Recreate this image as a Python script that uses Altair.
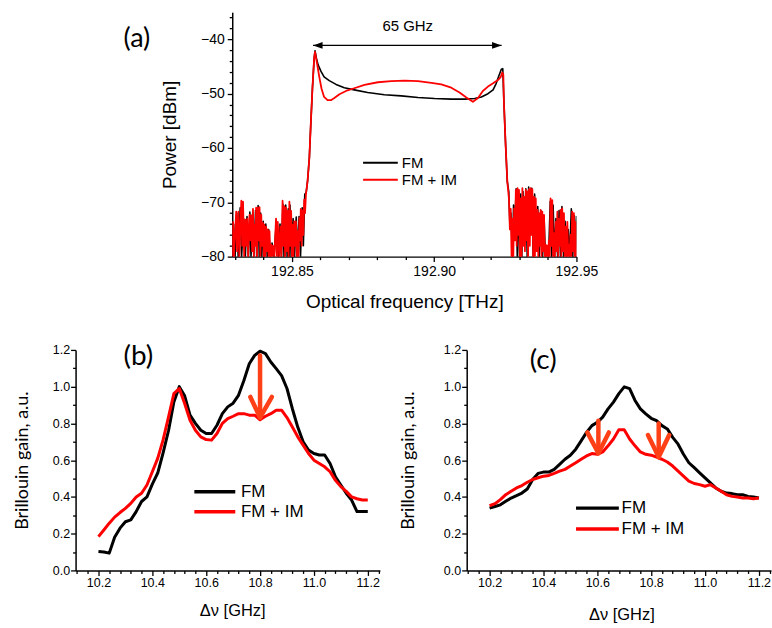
import altair as alt
import pandas as pd

# ---------------- Panel (a): optical spectrum ----------------
A_FM_LEFT_NOISE = [
    (192.8290, -80), (192.8295, -74), (192.8300, -80), (192.8306, -72), (192.8311, -80), (192.8318, -71),
    (192.8323, -80), (192.8330, -73), (192.8336, -80), (192.8342, -72.6), (192.8347, -80), (192.8352, -71.8),
    (192.8356, -80), (192.8362, -72), (192.8366, -80), (192.8372, -71.5), (192.8376, -80), (192.8381, -70.6),
    (192.8385, -80), (192.8390, -72), (192.8394, -80), (192.8399, -73.5), (192.8402, -80), (192.8408, -74),
    (192.8413, -80), (192.8418, -75), (192.8424, -80), (192.8430, -77.5), (192.8437, -80), (192.8445, -73.5),
    (192.8452, -80), (192.8458, -74), (192.8463, -80), (192.8468, -70.3), (192.8472, -80), (192.8478, -70.5),
    (192.8483, -80), (192.8487, -71.2), (192.8490, -80), (192.8493, -70.5), (192.8497, -80), (192.8504, -73),
    (192.8509, -80), (192.8515, -72.7), (192.8519, -80), (192.8525, -72.6), (192.8530, -80), (192.8536, -71),
    (192.8540, -78), (192.8545, -68.5), (192.8550, -68.2),
]
A_FM_MAIN = [
    (192.8555, -66), (192.8561, -61.9), (192.8566, -55.8), (192.8572, -49), (192.8578, -43.5), (192.8581, -42.1),
    (192.8586, -43.5), (192.8592, -44.7), (192.8602, -45.9), (192.8613, -46.9), (192.8631, -47.6), (192.8655, -48.3),
    (192.8684, -48.9), (192.8719, -49.3), (192.8766, -49.8), (192.8825, -50.2), (192.8884, -50.4), (192.8943, -50.7),
    (192.9001, -50.9), (192.9060, -51.0), (192.9107, -51.0), (192.9142, -50.9), (192.9166, -50.6), (192.9189, -50.0),
    (192.9207, -49.3), (192.9218, -48.1), (192.9228, -46.6), (192.9236, -45.5), (192.9241, -45.4), (192.9245, -51.5),
    (192.9251, -59.4), (192.9257, -66.2),
]
A_FM_RIGHT_NOISE = [
    (192.9262, -68), (192.9266, -74), (192.9270, -72), (192.9275, -80), (192.9279, -70.5), (192.9283, -75),
    (192.9288, -67.5), (192.9292, -80), (192.9296, -67.8), (192.9300, -80), (192.9304, -68.5), (192.9308, -80),
    (192.9312, -68), (192.9317, -78), (192.9322, -67.5), (192.9327, -80), (192.9332, -67.2), (192.9337, -76),
    (192.9343, -67.4), (192.9348, -80), (192.9353, -68.5), (192.9358, -76), (192.9364, -70.8), (192.9369, -80),
    (192.9375, -71.5), (192.9381, -80), (192.9386, -72.5), (192.9391, -80), (192.9397, -78), (192.9402, -80),
    (192.9408, -69.8), (192.9413, -80), (192.9418, -70.5), (192.9423, -80), (192.9428, -73), (192.9434, -80),
    (192.9439, -71.5), (192.9444, -80), (192.9449, -70.8), (192.9455, -80), (192.9460, -73.5), (192.9465, -80),
    (192.9471, -75), (192.9476, -80), (192.9482, -71.2), (192.9487, -80), (192.9492, -72.5), (192.9497, -80),
    (192.9500, -72.5),
]
A_IM_LEFT_NOISE = [
    (192.8290, -80), (192.8293, -73.6), (192.8296, -80), (192.8300, -76), (192.8304, -71.7), (192.8307, -79),
    (192.8312, -71.7), (192.8315, -80), (192.8319, -74), (192.8322, -69.7), (192.8325, -78), (192.8328, -69.9),
    (192.8332, -80), (192.8336, -73.2), (192.8339, -78), (192.8343, -73.0), (192.8346, -80), (192.8351, -72.3),
    (192.8354, -77), (192.8357, -72.4), (192.8360, -79), (192.8363, -71.2), (192.8366, -80), (192.8368, -74.1),
    (192.8371, -78), (192.8374, -71.0), (192.8377, -80), (192.8380, -71.0), (192.8383, -77), (192.8386, -70.9),
    (192.8389, -80), (192.8392, -72.3), (192.8395, -78), (192.8398, -73.8), (192.8401, -80), (192.8403, -74.1),
    (192.8406, -80), (192.8409, -74.5), (192.8412, -79), (192.8415, -75.0), (192.8418, -80), (192.8421, -75.3),
    (192.8424, -80), (192.8427, -77.8), (192.8430, -80), (192.8433, -78.0), (192.8438, -80), (192.8444, -73.0),
    (192.8447, -80), (192.8450, -73.6), (192.8455, -80), (192.8459, -74.5), (192.8463, -80), (192.8467, -69.7),
    (192.8470, -78), (192.8473, -70.7), (192.8476, -80), (192.8479, -71.0), (192.8482, -79), (192.8485, -71.6),
    (192.8488, -80), (192.8491, -69.9), (192.8494, -78), (192.8497, -71.6), (192.8500, -80), (192.8502, -74.1),
    (192.8505, -80), (192.8508, -73.5), (192.8511, -78), (192.8514, -73.5), (192.8517, -80), (192.8520, -75.3),
    (192.8523, -80), (192.8526, -72.9), (192.8529, -77), (192.8531, -71.2), (192.8534, -78), (192.8537, -71.5),
    (192.8540, -76), (192.8543, -69.5), (192.8546, -72), (192.8549, -68.6),
]
A_IM_MAIN = [
    (192.8555, -66), (192.8561, -61.9), (192.8566, -55.8), (192.8572, -49), (192.8578, -43.5), (192.8581, -42.3),
    (192.8586, -43.8), (192.8590, -45), (192.8596, -46.9), (192.8604, -49.1), (192.8613, -50.6), (192.8625, -51.2),
    (192.8637, -51.2), (192.8649, -50.8), (192.8667, -50.1), (192.8690, -49.5), (192.8719, -49.0), (192.8755, -48.4),
    (192.8802, -47.9), (192.8849, -47.7), (192.8896, -47.6), (192.8943, -47.7), (192.8990, -48.0), (192.9025, -48.3),
    (192.9060, -48.9), (192.9089, -49.8), (192.9113, -50.7), (192.9136, -51.5), (192.9154, -50.8), (192.9171, -49.5),
    (192.9189, -48.7), (192.9207, -48.1), (192.9224, -47.5), (192.9234, -46.9), (192.9239, -46.1), (192.9243, -46.5),
    (192.9245, -51.5), (192.9251, -59.4), (192.9257, -66.2),
]
A_IM_RIGHT_NOISE = [
    (192.9263, -69.5), (192.9266, -75), (192.9269, -71.2), (192.9272, -80), (192.9275, -73), (192.9278, -80),
    (192.9281, -71.1), (192.9284, -77), (192.9287, -67.7), (192.9290, -78), (192.9293, -67.4), (192.9296, -76),
    (192.9298, -67.7), (192.9301, -80), (192.9304, -69.3), (192.9307, -80), (192.9310, -67.4), (192.9313, -78),
    (192.9316, -69.0), (192.9319, -79), (192.9322, -67.7), (192.9325, -77), (192.9327, -68.0), (192.9330, -80),
    (192.9333, -67.6), (192.9336, -78), (192.9339, -67.4), (192.9342, -76), (192.9345, -67.6), (192.9348, -80),
    (192.9351, -69.0), (192.9354, -80), (192.9357, -69.3), (192.9360, -79), (192.9363, -71.4), (192.9366, -80),
    (192.9368, -72.0), (192.9371, -78), (192.9374, -71.4), (192.9377, -80), (192.9380, -71.7), (192.9383, -79),
    (192.9386, -72.3), (192.9389, -80), (192.9392, -77.8), (192.9395, -80), (192.9398, -78.0), (192.9401, -80),
    (192.9403, -77.0), (192.9406, -80), (192.9409, -69.3), (192.9412, -78), (192.9415, -69.6), (192.9418, -80),
    (192.9421, -75.7), (192.9424, -80), (192.9427, -73.6), (192.9430, -79), (192.9433, -71.7), (192.9436, -80),
    (192.9438, -73.0), (192.9441, -78), (192.9444, -71.4), (192.9447, -80), (192.9450, -71.1), (192.9453, -79),
    (192.9456, -72.0), (192.9459, -80), (192.9462, -74.5), (192.9465, -80), (192.9468, -73.6), (192.9471, -80),
    (192.9473, -77.8), (192.9476, -80), (192.9479, -76.0), (192.9482, -80), (192.9485, -71.7), (192.9488, -79),
    (192.9491, -72.0), (192.9494, -80), (192.9497, -73.6), (192.9500, -80),
]
A_X_DOMAIN = [192.829, 192.95]
A_Y_DOMAIN = [-80, -35]
A_X_TICKS = [192.83, 192.84, 192.85, 192.86, 192.87, 192.88, 192.89, 192.90, 192.91, 192.92, 192.93, 192.94, 192.95]
A_Y_TICKS = [-80, -78, -76, -74, -72, -70, -68, -66, -64, -62, -60, -58, -56, -54, -52, -50,
             -48, -46, -44, -42, -40, -38, -36]
A_SPAN_ARROW = {"x": [192.8574], "x2": [192.9237], "y": [-41.12]}
A_HEAD_LEFT = {"x": [192.8591], "y": [-41.12]}
A_HEAD_RIGHT = {"x": [192.9220], "y": [-41.12]}
A_SPAN_TEXT = {"x": [192.8907], "y": [-37.57], "t": ["65 GHz"]}
A_LABEL = {"x": [192.7955], "y": [-39.96], "t": ["(a)"]}
A_LEG_LINES = {"x": [192.8750, 192.8750], "x2": [192.8872, 192.8872], "y": [-62.74, -65.86], "c": ["#000000", "#ff0000"]}
A_LEG_TEXT = {"x": [192.8886, 192.8886], "y": [-62.74, -65.86], "t": ["FM", "FM + IM"]}

# ---------------- Panels (b) and (c): Brillouin gain ----------------
DNU = [10.20, 10.22, 10.24, 10.26, 10.28, 10.30, 10.32, 10.34, 10.36, 10.38, 10.40, 10.42, 10.44, 10.46,
       10.48, 10.50, 10.52, 10.54, 10.56, 10.58, 10.60, 10.62, 10.64, 10.66, 10.68, 10.70, 10.72, 10.74,
       10.76, 10.78, 10.80, 10.82, 10.84, 10.86, 10.88, 10.90, 10.92, 10.94, 10.96, 10.98, 11.00, 11.02,
       11.04, 11.06, 11.08, 11.10, 11.12, 11.14, 11.16, 11.18, 11.20]
B_FM = [0.103, 0.10, 0.094, 0.18, 0.23, 0.265, 0.275, 0.32, 0.375, 0.40, 0.47, 0.53, 0.64, 0.76,
        0.917, 1.0, 0.95, 0.845, 0.80, 0.763, 0.745, 0.745, 0.79, 0.853, 0.89, 0.91, 0.953, 1.034,
        1.125, 1.17, 1.193, 1.18, 1.134, 1.098, 1.06, 0.99, 0.88, 0.78, 0.70, 0.655, 0.636, 0.628,
        0.628, 0.582, 0.51, 0.465, 0.42, 0.383, 0.32, 0.32, 0.32]
B_IM = [0.184, 0.22, 0.257, 0.29, 0.315, 0.338, 0.365, 0.40, 0.42, 0.465, 0.537, 0.61, 0.71, 0.835,
        0.962, 0.99, 0.908, 0.817, 0.763, 0.727, 0.712, 0.709, 0.745, 0.80, 0.826, 0.839, 0.853, 0.853,
        0.845, 0.845, 0.82, 0.839, 0.853, 0.872, 0.872, 0.832, 0.78, 0.727, 0.682, 0.636, 0.60, 0.582,
        0.564, 0.537, 0.49, 0.456, 0.43, 0.40, 0.39, 0.383, 0.383]
C_FM = [0.339, 0.348, 0.357, 0.376, 0.394, 0.407, 0.421, 0.443, 0.495, 0.528, 0.535, 0.535, 0.55, 0.577,
        0.605, 0.627, 0.66, 0.705, 0.751, 0.788, 0.806, 0.834, 0.879, 0.916, 0.962, 0.999, 0.989, 0.925,
        0.879, 0.852, 0.828, 0.815, 0.788, 0.77, 0.724, 0.687, 0.632, 0.586, 0.559, 0.531, 0.504, 0.476,
        0.449, 0.431, 0.421, 0.418, 0.412, 0.412, 0.403, 0.399, 0.394]
C_IM = [0.352, 0.363, 0.385, 0.412, 0.431, 0.449, 0.462, 0.48, 0.495, 0.504, 0.513, 0.517, 0.528, 0.54,
        0.55, 0.568, 0.586, 0.605, 0.623, 0.636, 0.632, 0.645, 0.678, 0.715, 0.765, 0.765, 0.715, 0.678,
        0.645, 0.632, 0.627, 0.617, 0.605, 0.59, 0.568, 0.54, 0.513, 0.486, 0.473, 0.467, 0.458, 0.467,
        0.449, 0.431, 0.412, 0.403, 0.399, 0.394, 0.394, 0.39, 0.394]
BC_X_DOMAIN = [10.115, 11.245]
BC_Y_DOMAIN = [0, 1.2]
BC_X_TICKS = [10.12, 10.16, 10.20, 10.24, 10.28, 10.32, 10.36, 10.40, 10.44, 10.48, 10.52, 10.56, 10.60,
              10.64, 10.68, 10.72, 10.76, 10.80, 10.84, 10.88, 10.92, 10.96, 11.00, 11.04, 11.08, 11.12,
              11.16, 11.20, 11.24]
BC_Y_TICKS = [0, 0.1, 0.2, 0.3, 0.4, 0.5, 0.6, 0.7, 0.8, 0.9, 1.0, 1.1, 1.2]
B_ARROWS = {"x": [10.80, 10.764, 10.844], "y": [1.17, 0.944, 0.944], "x2": [10.80, 10.80, 10.80], "y2": [0.84, 0.832, 0.832]}
C_ARROWS = {"x": [10.604, 10.563, 10.643, 10.828, 10.788, 10.867],
            "y": [0.815, 0.751, 0.751, 0.80, 0.737, 0.737],
            "x2": [10.604, 10.604, 10.604, 10.828, 10.828, 10.828],
            "y2": [0.645, 0.638, 0.638, 0.625, 0.617, 0.617]}
B_LABEL = {"x": [10.348], "y": [1.162], "t": ["(b)"]}
C_LABEL = {"x": [10.399], "y": [1.14], "t": ["(c)"]}
B_LEG_LINES = {"x": [10.556, 10.556], "x2": [10.708, 10.708], "y": [0.428, 0.319], "c": ["#000000", "#ff0000"]}
B_LEG_TEXT = {"x": [10.729, 10.729], "y": [0.428, 0.319], "t": ["FM", "FM + IM"]}
C_LEG_LINES = {"x": [10.521, 10.521], "x2": [10.68, 10.68], "y": [0.339, 0.225], "c": ["#000000", "#ff0000"]}
C_LEG_TEXT = {"x": [10.69, 10.69], "y": [0.339, 0.225], "t": ["FM", "FM + IM"]}

FONT = "Liberation Sans"
LFONT = "Lato"
ARROW_COLOR = "#ff3f16"


def make_axis(values, major, fmt, lab_size, pad, title, t_font, t_size, tx, ty, angle):
    return alt.Axis(
        values=values,
        labelExpr=f"({major}) ? format(datum.value, '{fmt}') : ''",
        tickSize={"condition": {"test": major, "value": 5}, "value": 3},
        labelOverlap=False, labelFlush=False,
        labelFont=FONT, labelFontSize=lab_size, labelColor="#000000", labelPadding=pad,
        domainColor="#000000", domainWidth=1.5, tickColor="#000000", tickWidth=1.3,
        grid=False,
        title=title, titleFont=t_font, titleFontSize=t_size, titleFontWeight="normal",
        titleColor="#000000", titleX=tx, titleY=ty, titleAlign="center", titleBaseline="middle",
        titleAngle=angle,
    )


def pairs_df(*lists):
    rows = [p for lst in lists for p in lst]
    return pd.DataFrame({"x": [r[0] for r in rows], "y": [r[1] for r in rows]})


# ---- panel (a)
MAJ_AX = "abs(datum.value*20 - round(datum.value*20)) < 0.01"
MAJ_AY = "abs(datum.value/10 - round(datum.value/10)) < 0.01"
xa = alt.X("x:Q", scale=alt.Scale(domain=A_X_DOMAIN, nice=False, zero=False),
           axis=make_axis(A_X_TICKS, MAJ_AX, ".2f", 14, 3, "Optical frequency [THz]", FONT, 19, 172.5, 45, 0))
ya = alt.Y("y:Q", scale=alt.Scale(domain=A_Y_DOMAIN, nice=False, zero=False),
           axis=make_axis(A_Y_TICKS, MAJ_AY, "d", 14, 3, "Power [dBm]", FONT, 19, -63, 122.5, 270))

a_fm = alt.Chart(pairs_df(A_FM_LEFT_NOISE, A_FM_MAIN, A_FM_RIGHT_NOISE)).mark_line(
    color="#000000", strokeWidth=1.6, strokeJoin="round", clip=True).encode(x=xa, y=ya)
a_im = alt.Chart(pairs_df(A_IM_LEFT_NOISE, A_IM_MAIN, A_IM_RIGHT_NOISE)).mark_line(
    color="#ff0000", strokeWidth=1.8, strokeJoin="round", clip=True).encode(x=xa, y=ya)
a_span = alt.Chart(pd.DataFrame(A_SPAN_ARROW)).mark_rule(color="#000000", strokeWidth=1.3).encode(
    x=xa, x2="x2:Q", y=ya)
a_hl = alt.Chart(pd.DataFrame(A_HEAD_LEFT)).mark_point(
    shape="M1,-0.7L-1,0L1,0.7Z", filled=True, color="#000000", opacity=1, size=90).encode(x=xa, y=ya)
a_hr = alt.Chart(pd.DataFrame(A_HEAD_RIGHT)).mark_point(
    shape="M-1,-0.7L1,0L-1,0.7Z", filled=True, color="#000000", opacity=1, size=90).encode(x=xa, y=ya)
a_stext = alt.Chart(pd.DataFrame(A_SPAN_TEXT)).mark_text(
    font=FONT, fontSize=15, color="#000000", baseline="middle").encode(x=xa, y=ya, text="t:N")
a_label = alt.Chart(pd.DataFrame(A_LABEL)).mark_text(
    font=LFONT, fontSize=27, color="#000000", baseline="middle").encode(x=xa, y=ya, text="t:N")
a_leg = alt.Chart(pd.DataFrame(A_LEG_LINES)).mark_rule(strokeWidth=2).encode(
    x=xa, x2="x2:Q", y=ya, color=alt.Color("c:N", scale=None))
a_legt = alt.Chart(pd.DataFrame(A_LEG_TEXT)).mark_text(
    font=FONT, fontSize=15, align="left", baseline="middle", color="#000000").encode(x=xa, y=ya, text="t:N")
panel_a = alt.layer(a_fm, a_im, a_span, a_hl, a_hr, a_stext, a_label, a_leg, a_legt).properties(width=345, height=245)

# ---- panels (b), (c)
MAJ_B = "abs(datum.value*5 - round(datum.value*5)) < 0.01"


def gain_panel(fm, im, arrows, label, leg_lines, leg_text, title_x, xt_y, yt_x):
    x = alt.X("x:Q", scale=alt.Scale(domain=BC_X_DOMAIN, nice=False, zero=False),
              axis=make_axis(BC_X_TICKS, MAJ_B, ".1f", 12.5, 1, "\u0394\u03bd [GHz]", FONT, 16.5, title_x, xt_y, 0))
    y = alt.Y("y:Q", scale=alt.Scale(domain=BC_Y_DOMAIN, nice=False, zero=False),
              axis=make_axis(BC_Y_TICKS, MAJ_B, ".1f", 12.5, 1, "Brillouin gain, a.u.", LFONT, 18, yt_x, 110.5, 270))
    l_fm = alt.Chart(pd.DataFrame({"x": DNU, "y": fm})).mark_line(
        color="#000000", strokeWidth=3, strokeJoin="round").encode(x=x, y=y)
    l_im = alt.Chart(pd.DataFrame({"x": DNU, "y": im})).mark_line(
        color="#ff0000", strokeWidth=3, strokeJoin="round").encode(x=x, y=y)
    arr = alt.Chart(pd.DataFrame(arrows)).mark_rule(
        color=ARROW_COLOR, strokeWidth=4.5, strokeCap="round").encode(x=x, y=y, x2="x2:Q", y2="y2:Q")
    lab = alt.Chart(pd.DataFrame(label)).mark_text(
        font=LFONT, fontSize=28, baseline="middle", color="#000000").encode(x=x, y=y, text="t:N")
    leg = alt.Chart(pd.DataFrame(leg_lines)).mark_rule(strokeWidth=3.5).encode(
        x=x, x2="x2:Q", y=y, color=alt.Color("c:N", scale=None))
    legt = alt.Chart(pd.DataFrame(leg_text)).mark_text(
        font=FONT, fontSize=17, align="left", baseline="middle", color="#000000").encode(x=x, y=y, text="t:N")
    return alt.layer(l_fm, l_im, arr, lab, leg, legt).properties(width=305, height=221)


panel_b = gain_panel(B_FM, B_IM, B_ARROWS, B_LABEL, B_LEG_LINES, B_LEG_TEXT, 157, 40.5, -53)
panel_c = gain_panel(C_FM, C_IM, C_ARROWS, C_LABEL, C_LEG_LINES, C_LEG_TEXT, 155, 44.5, -58)

spacer = alt.Chart(pd.DataFrame({"v": [0]})).mark_point(opacity=0).encode(
    x=alt.value(0), y=alt.value(0)).properties(width=157, height=245)

top = alt.hconcat(spacer, panel_a, spacing=0, bounds="flush")
bottom = alt.hconcat(panel_b, panel_c, spacing=87, bounds="flush")
chart = alt.vconcat(top, bottom, spacing=29.5, bounds="full").properties(
    padding={"left": 12.75, "top": 7.5, "right": 0, "bottom": 0},
    background="#ffffff",
).configure_view(stroke="transparent")

chart.save("out.html", embed_options={"renderer": "svg", "actions": False})
